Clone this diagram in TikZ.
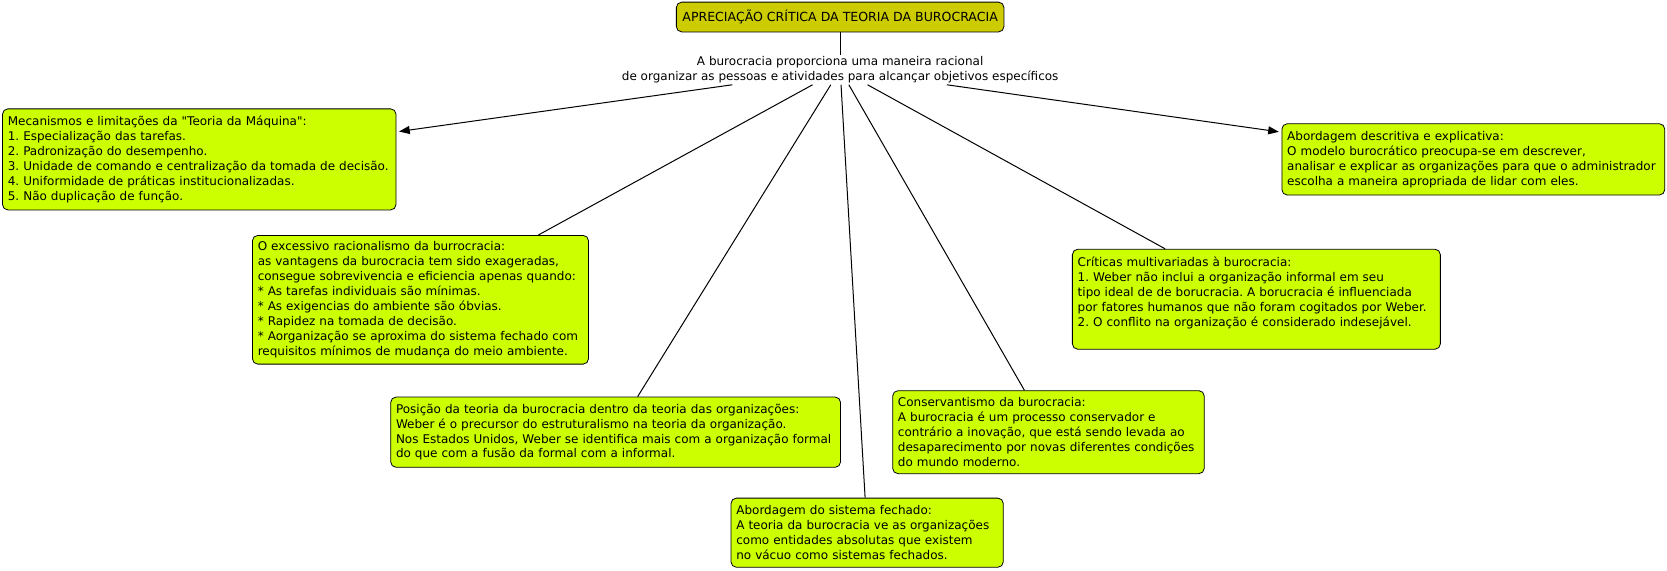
\documentclass[tikz,border=0pt]{standalone}
\usepackage{fontspec}
\setmainfont{DejaVu Sans}
\usepackage{tikz}
\usetikzlibrary{arrows.meta, positioning}
\definecolor{conceptfill}{RGB}{204,255,0}
\definecolor{titlefill}{RGB}{204,204,0}
\newdimen\px \px=0.7976pt
\frenchspacing

\begin{document}
\begin{tikzpicture}[
    x=\px, y=-\px,
    % Node styles
    concept/.style={rectangle, draw=black, line width=0.6pt, fill=conceptfill, rounded corners=5\px, anchor=north west, align=left, inner xsep=5\px, inner ysep=2\px, font=\fontsize{9}{11.17}\selectfont},
    maintopic/.style={rectangle, draw=black, line width=0.6pt, fill=titlefill, rounded corners=5\px, minimum width=308\px, minimum height=28\px, align=center, font=\fontsize{9.4}{11.17}\selectfont},
    linkphrase/.style={rectangle, align=center, inner sep=1.5\px, font=\fontsize{9}{11.17}\selectfont},
    arrow/.style={-{Triangle[length=8pt, width=6pt]}, shorten >=2pt, line width=0.75pt, black},
    link/.style={line width=0.75pt, black},
]
\useasboundingbox (0,0) rectangle (1567.5,536);

% === TOP: Title and linking phrase ===
\node[maintopic] (title) at (790,16) {APRECIAÇÃO CRÍTICA DA TEORIA DA BUROCRACIA};
\node[linkphrase] (hub) at (790,65.5) {A burocracia proporciona uma maneira racional\\de organizar as pessoas e atividades para alcançar objetivos específicos};

% === CONCEPTS ===
\node[concept, text width=360\px, minimum width=370\px, minimum height=95\px] (mecanismos) at (2,102) {Mecanismos e limitações da \textquotedbl Teoria da Máquina\textquotedbl:\\1. Especialização das tarefas.\\2. Padronização do desempenho.\\3. Unidade de comando e centralização da tomada de decisão.\\4. Uniformidade de práticas institucionalizadas.\\5. Não duplicação de função.};
\node[concept, text width=350\px, minimum width=360\px, minimum height=67\px] (descritiva) at (1205,116) {Abordagem descritiva e explicativa:\\O modelo burocrático preocupa-se em descrever,\\analisar e explicar as organizações para que o administrador\\escolha a maneira apropriada de lidar com eles.};
\node[concept, text width=306\px, minimum width=316\px, minimum height=121\px] (racionalismo) at (237,221) {O excessivo racionalismo da burrocracia:\\as vantagens da burocracia tem sido exageradas,\\consegue sobrevivencia e eficiencia apenas quando:\\{*} As tarefas individuais são mínimas.\\{*} As exigencias do ambiente são óbvias.\\{*} Rapidez na tomada de decisão.\\{*} Aorganização se aproxima do sistema fechado com\\requisitos mínimos de mudança do meio ambiente.};
\node[concept, text width=336\px, minimum width=346\px, minimum height=94\px] (criticas) at (1008,234) {Críticas multivariadas à burocracia:\\1. Weber não inclui a organização informal em seu\\tipo ideal de de borucracia. A borucracia é influenciada\\por fatores humanos que não foram cogitados por Weber.\\2. O conflito na organização é considerado indesejável.\\\mbox{}};
\node[concept, text width=413\px, minimum width=423\px, minimum height=66\px] (posicao) at (367,373) {Posição da teoria da burocracia dentro da teoria das organizações:\\Weber é o precursor do estruturalismo na teoria da organização.\\Nos Estados Unidos, Weber se identifica mais com a organização formal\\do que com a fusão da formal com a informal.};
\node[concept, text width=283\px, minimum width=293\px, minimum height=78\px] (conservantismo) at (839,367) {Conservantismo da burocracia:\\A burocracia é um processo conservador e\\contrário a inovação, que está sendo levada ao\\desaparecimento por novas diferentes condições\\do mundo moderno.};
\node[concept, text width=246\px, minimum width=256\px, minimum height=65\px] (fechado) at (687,468) {Abordagem do sistema fechado:\\A teoria da burocracia ve as organizações\\como entidades absolutas que existem\\no vácuo como sistemas fechados.};

% === CONNECTORS ===
\draw[link] (title) -- (hub);
\draw[arrow] (hub) -- (mecanismos);
\draw[arrow] (hub) -- (descritiva);
\draw[link] (hub) -- (racionalismo);
\draw[link] (hub) -- (posicao);
\draw[link] (hub) -- (fechado);
\draw[link] (hub) -- (conservantismo);
\draw[link] (hub) -- (criticas);

\end{tikzpicture}
\end{document}
